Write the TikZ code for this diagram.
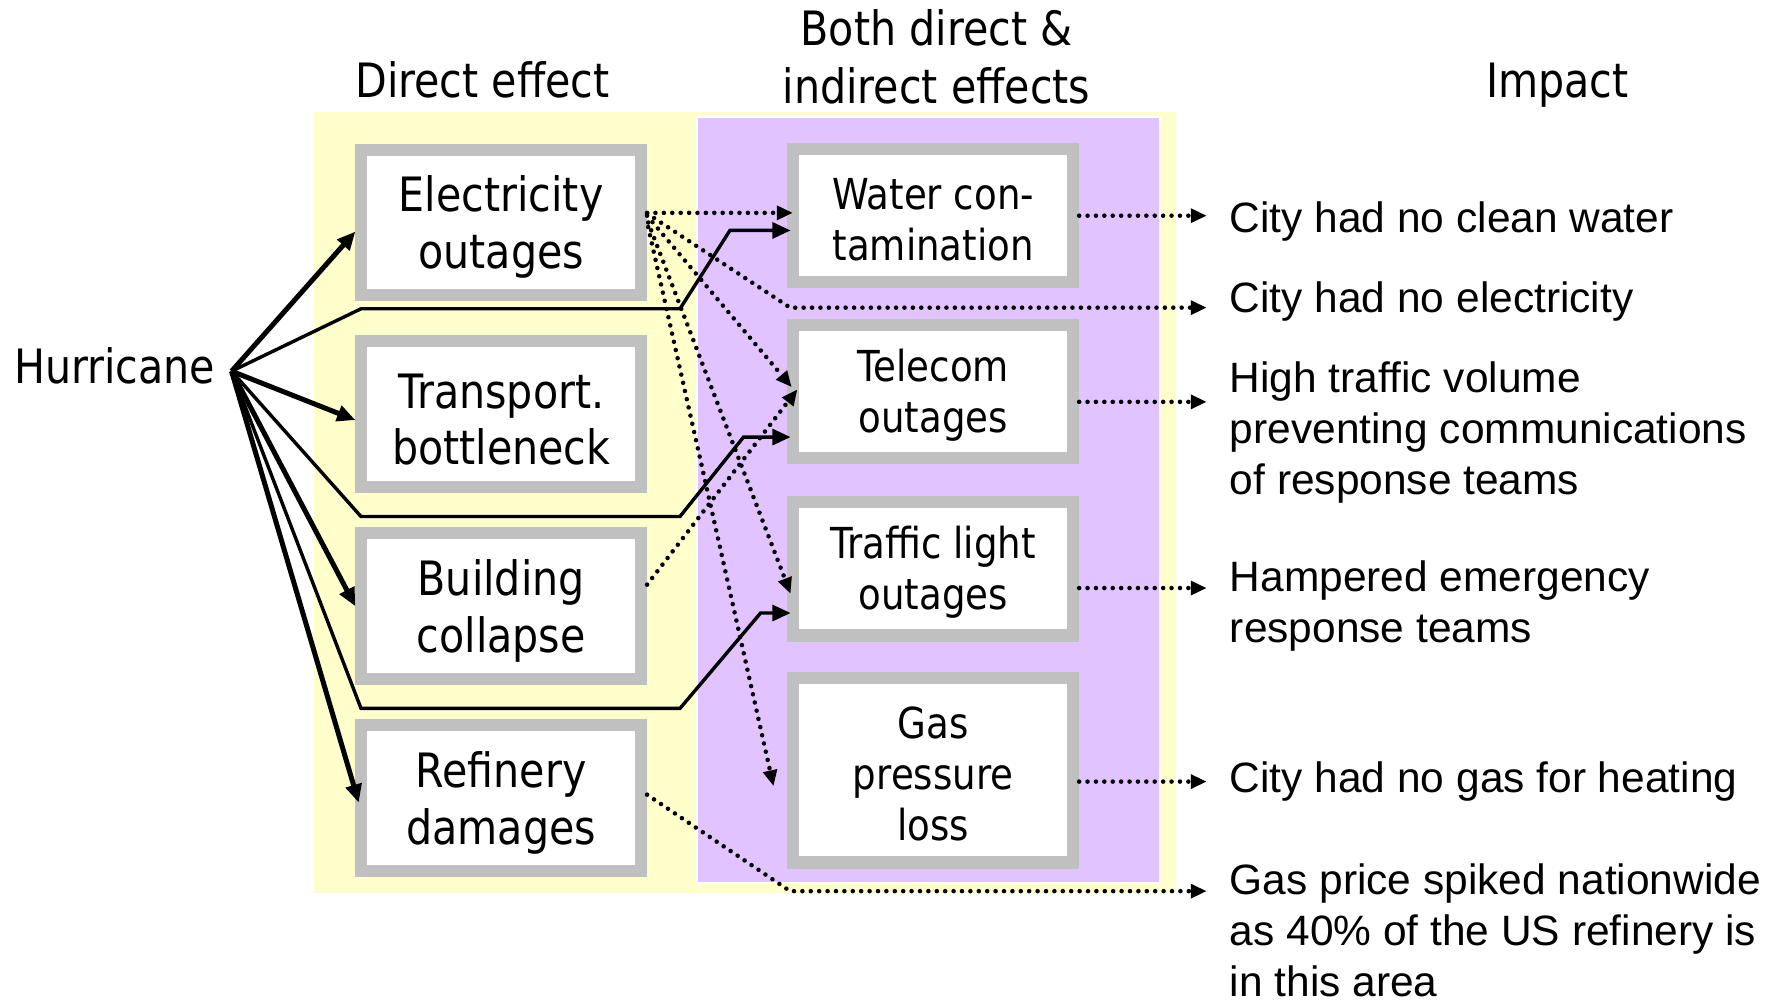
\documentclass[tikz,border=0pt]{standalone}
\usepackage{fontspec}
\setmainfont{Liberation Sans}
\newfontfamily\tah[FakeStretch=0.87]{DejaVu Sans}
\usetikzlibrary{arrows.meta,calc}
\definecolor{bgyellow}{RGB}{255,255,204}
\definecolor{bgpurple}{RGB}{224,195,255}
\definecolor{boxgray}{RGB}{192,192,192}
\newcommand{\myLup}{\rule{0pt}{19.9pt}}
\newcommand{\myRup}{\rule{0pt}{17.3pt}}
\begin{document}
\begin{tikzpicture}[x=0.5pt,y=-0.5pt,
  lbox/.style={draw=boxgray, line width=5.3pt, fill=white, minimum width=123.2pt, minimum height=64.2pt, inner sep=0pt, align=center, font=\tah\fontsize{20.85}{25}\selectfont},
  rbox/.style={draw=boxgray, line width=5.4pt, fill=white, minimum width=123.2pt, minimum height=58.7pt, inner sep=0pt, align=center, font=\tah\fontsize{18.8}{22.5}\selectfont},
  ttl/.style={font=\tah\fontsize{20.85}{25}\selectfont, anchor=base, inner sep=0pt},
  impact/.style={font=\fontsize{18.7}{22.5}\selectfont, anchor=base west, inner sep=0pt},
  tip/.style={-{Triangle[length=7pt,width=6pt]}},
  bigtip/.style={-{Triangle[length=8pt,width=7pt]}},
  thickarr/.style={line width=2.2pt, bigtip},
  thinarr/.style={line width=1.5pt, bigtip},
  dotarr/.style={line width=2pt, dash pattern=on 0pt off 3.7pt, line cap=round, tip},
]
\useasboundingbox (0,0) rectangle (1568,884);
% backgrounds
\fill[bgyellow] (277,98.4) rectangle (1035.5,786.6);
\filldraw[fill=bgpurple, draw=white, line width=0.8pt] (614,103) rectangle (1022,778);

% titles
\node[ttl] (tdir) at (425,86) {Direct effect};
\node[ttl] (tboth1) at (825,40) {Both direct \&};
\node[ttl] (tboth2) at (825,91) {indirect effects};
\node[ttl] (timp) at (1372,86) {Impact};
\node[ttl] (hur) at (101,338) {Hurricane};

% left boxes
\node[lbox] (elec)  at (441.5,196) {\myLup Electricity\\outages};
\node[lbox] (trans) at (441.5,365) {\myLup Transport.\\bottleneck};
\node[lbox] (bldg)  at (441.5,534) {\myLup Building\\collapse};
\node[lbox] (ref)   at (441.5,703) {\myLup Refinery\\damages};

% right boxes
\node[rbox] (water)   at (822,190) {\myRup Water con-\\tamination};
\node[rbox] (telecom) at (822,345) {\myRup Telecom\\outages};
\node[rbox] (traffic) at (822,501) {\myRup Traffic light\\outages};
\node[rbox, minimum height=81.2pt] (gas) at (822,678.5) {\myRup Gas\\pressure\\loss};

% impact texts
\node[impact] (i1) at (1083,205) {City had no clean water};
\node[impact] (i2) at (1083,275) {City had no electricity};
\node[impact] (i3) at (1083,346) {\begin{tabular}[t]{@{}l@{}}High traffic volume\\preventing communications\\of response teams\end{tabular}};
\node[impact] (i4) at (1083,521) {\begin{tabular}[t]{@{}l@{}}Hampered emergency\\response teams\end{tabular}};
\node[impact] (i5) at (1083,698) {City had no gas for heating};
\node[impact] (i6) at (1083,788) {\begin{tabular}[t]{@{}l@{}}Gas price spiked nationwide\\as 40\% of the US refinery is\\in this area\end{tabular}};

% arrow end coordinates on the impact side
\coordinate (hx) at (204,327);
\coordinate (e1) at (1063,190);
\coordinate (e2) at (1063,271);
\coordinate (e3) at (1063,354);
\coordinate (e4) at (1063,518);
\coordinate (e5) at (1063,688.5);
\coordinate (e6) at (1063,785);

% hurricane arrows
\draw[thickarr] (hx) -- ($(elec.west)+(0,8)$);
\draw[thickarr] (hx) -- ($(trans.west)+(0,5)$);
\draw[thickarr] (hx) -- (bldg.west);
\draw[thickarr] (hx) -- ($(ref.west)+(3,4)$);
\draw[thinarr] (hx) -- (318,272) -- (599,272) -- (643,203) -- ($(water.west)+(3,13)$);
\draw[thinarr] (hx) -- (318,455) -- (599,455) -- (655,385) -- ($(telecom.west)+(3,40)$);
\draw[thinarr] (hx) -- (318,624) -- (599,624) -- (670,540) -- ($(traffic.west)+(3,39)$);

% dotted dependencies
\draw[dotarr] ($(elec.east)+(0,-8.5)$) -- ($(water.west)+(5,-2.5)$);
\draw[dotarr] ($(elec.east)+(0,-8)$) -- (696,271) -- (e2);
\draw[dotarr] ($(elec.east)+(0,-6)$) -- ($(telecom.west)+(4,-4)$);
\draw[dotarr] ($(elec.east)+(1,0)$) -- ($(traffic.west)+(3,22)$);
\draw[dotarr] ($(elec.east)+(1,4)$) -- ($(gas.west)+(-12,14)$);
\draw[dotarr] ($(bldg.east)+(0,-19)$) -- ($(telecom.west)+(9,-2)$);
\draw[dotarr] ($(ref.east)+(0,-3)$) -- (696,785) -- (e6);

% impact arrows
\draw[dotarr] (water.east) -- (e1);
\draw[dotarr] (e3 -| telecom.east) -- (e3);
\draw[dotarr] (e4 -| traffic.east) -- (e4);
\draw[dotarr] (e5 -| gas.east) -- (e5);
\end{tikzpicture}
\end{document}
